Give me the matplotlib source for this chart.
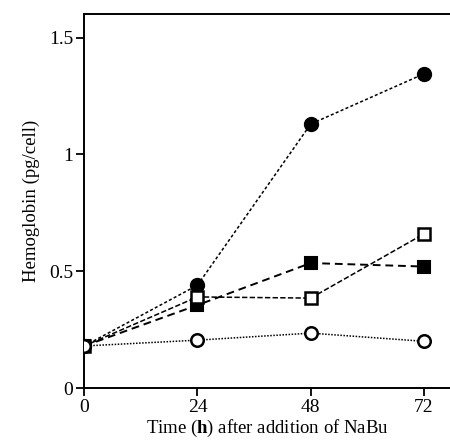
import matplotlib
matplotlib.use("Agg")
import matplotlib.pyplot as plt

plt.rcParams['font.family'] = ['Liberation Serif', 'DejaVu Serif']
plt.rcParams['mathtext.fontset'] = 'custom'
plt.rcParams['mathtext.rm'] = 'Liberation Serif'
plt.rcParams['mathtext.bf'] = 'Liberation Serif:bold'

time_h = [0, 24, 48, 72]
filled_circle = [0.18, 0.44, 1.13, 1.345]
open_square = [0.18, 0.39, 0.385, 0.66]
filled_square = [0.18, 0.355, 0.535, 0.52]
open_circle = [0.18, 0.205, 0.235, 0.20]
xticks = [0, 24, 48, 72]
yticks = [0, 0.5, 1, 1.5]
ytick_labels = ['0', '0.5', '1', '1.5']

fig = plt.figure(figsize=(4.5, 4.45), dpi=100)
ax = fig.add_axes([0.187, 0.128, 0.813, 0.840])

ax.plot(time_h, filled_square, linestyle=(0, (4, 2.5)), color='black', lw=1.4,
        marker='s', ms=9, mfc='black', mec='black', mew=1.5, zorder=4)
ax.plot(time_h, open_square, linestyle=(0, (3.5, 1.5)), color='black', lw=1.1,
        marker='s', ms=9, mfc='white', mec='black', mew=1.8, zorder=5)
ax.plot(time_h, filled_circle, linestyle=(0, (2, 1.5)), color='black', lw=1.1,
        marker='o', ms=10, mfc='black', mec='black', mew=1.0, zorder=4)
ax.plot(time_h, open_circle, linestyle=(0, (1, 1)), color='black', lw=1.1,
        marker='o', ms=9, mfc='white', mec='black', mew=1.8, zorder=6)

ax.set_xlim(0, 77.5)
ax.set_ylim(0, 1.6)
ax.set_xticks(xticks)
ax.set_yticks(yticks)
ax.set_yticklabels(ytick_labels)
ax.tick_params(direction='out', length=6, width=1.3, labelsize=14, pad=2)
ax.spines['right'].set_visible(False)
for s in ['left', 'bottom', 'top']:
    ax.spines[s].set_linewidth(1.4)

ax.set_ylabel('Hemoglobin (pg/cell)', fontsize=13.5, labelpad=6)
ax.set_xlabel('Time ($\\mathbf{h}$) after addition of NaBu', fontsize=13.5, labelpad=1)

fig.savefig('out.png', dpi=100)
